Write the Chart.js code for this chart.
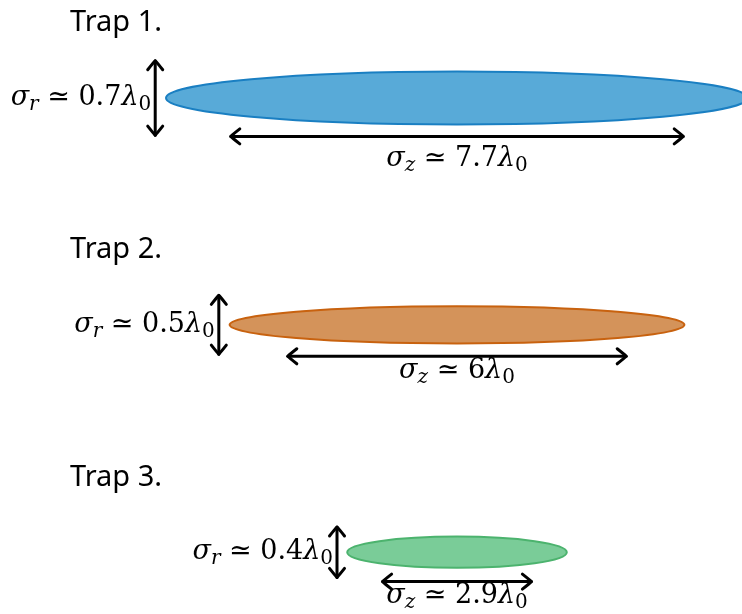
<!DOCTYPE html>
<html>
<head>
<meta charset="utf-8">
<script src="https://cdn.jsdelivr.net/npm/chart.js@4.4.1/dist/chart.umd.min.js"></script>
<style>
    html, body { margin: 0; padding: 0; background: #fff; }
</style>
</head>
<body>
<canvas id="grafico" width="742" height="614"></canvas>
<script>
// Dados (unidades de lambda0 aproximadas)
const trapNames = ['Trap 1.', 'Trap 2.', 'Trap 3.'];
const sigmaRText = ['0.7', '0.5', '0.4'];
const sigmaZText = ['7.7', '6', '2.9'];
const rowCenter = [0, -3.78, -7.57];
const ellipseHalfLen = [4.85, 3.79, 1.83];
const ellipseHalfHt = [0.44, 0.31, 0.26];
const zArrowHalf = [3.77, 2.82, 1.24];
const zArrowDy = [-0.64, -0.525, -0.49];
const zLabelDy = [-1.14, -0.89, -0.84];
const rArrowX = [-5.03, -3.97, -2.0];
const rArrowHalf = [0.62, 0.49, 0.42];

const fills = ['#58aad8', '#d4935a', '#7acc98'];
const edges = ['#1a7fc2', '#c8620f', '#4cb36e'];

const MATH_FONT = '"DejaVu Serif", serif';

// Desenha texto matemático com índices
function drawMath(ctx, parts, x, y, align) {
    const size = 27, subSize = 20;
    const fontFor = p => (p.it ? 'italic ' : '') + (p.sub ? subSize : size) + 'px ' + MATH_FONT;
    let total = 0;
    parts.forEach(p => { ctx.font = fontFor(p); p.w = ctx.measureText(p.t).width; total += p.w; });
    let cx = align === 'right' ? x - total : align === 'center' ? x - total / 2 : x;
    ctx.textAlign = 'left';
    ctx.textBaseline = 'alphabetic';
    ctx.fillStyle = '#000';
    parts.forEach(p => {
        ctx.font = fontFor(p);
        ctx.fillText(p.t, cx, y + (p.sub ? 5 : 0));
        cx += p.w;
    });
}

function mathParts(sym, val) {
    return [
        { t: '\u03c3', it: true },
        { t: sym, it: true, sub: true },
        { t: ' \u2243 ' },
        { t: val },
        { t: '\u03bb', it: true },
        { t: '0', sub: true }
    ];
}

// Seta de duas pontas com cabeça aberta
function drawArrow(ctx, x1, y1, x2, y2) {
    const ang = Math.atan2(y2 - y1, x2 - x1);
    const hl = 9, hw = 7.5;
    ctx.save();
    ctx.strokeStyle = '#000';
    ctx.lineWidth = 3;
    ctx.lineCap = 'round';
    ctx.lineJoin = 'round';
    ctx.beginPath();
    ctx.moveTo(x1, y1);
    ctx.lineTo(x2, y2);
    ctx.stroke();
    [[x2, y2, ang], [x1, y1, ang + Math.PI]].forEach(([tx, ty, a]) => {
        const bx = tx - hl * Math.cos(a), by = ty - hl * Math.sin(a);
        ctx.beginPath();
        ctx.moveTo(bx + hw * Math.sin(a), by - hw * Math.cos(a));
        ctx.quadraticCurveTo(tx - 2 * Math.cos(a) + 2 * Math.sin(a), ty - 2 * Math.sin(a) - 2 * Math.cos(a), tx, ty);
        ctx.quadraticCurveTo(tx - 2 * Math.cos(a) - 2 * Math.sin(a), ty - 2 * Math.sin(a) + 2 * Math.cos(a), bx - hw * Math.sin(a), by + hw * Math.cos(a));
        ctx.stroke();
    });
    ctx.restore();
}

const trapPlugin = {
    id: 'traps',
    afterDatasetsDraw(chart) {
        const ctx = chart.ctx;
        const xs = chart.scales.x, ys = chart.scales.y;
        const px = v => xs.getPixelForValue(v);
        const py = v => ys.getPixelForValue(v);
        chart.data.datasets.forEach((ds, i) => {
            const yc = rowCenter[i];
            // Elipse
            const cx = px(0), cy = py(yc);
            const rx = Math.abs(px(ellipseHalfLen[i]) - cx);
            const ry = Math.abs(py(yc + ellipseHalfHt[i]) - cy);
            ctx.save();
            ctx.beginPath();
            ctx.ellipse(cx, cy, rx, ry, 0, 0, Math.PI * 2);
            ctx.fillStyle = fills[i];
            ctx.fill();
            ctx.lineWidth = 2;
            ctx.strokeStyle = edges[i];
            ctx.stroke();
            ctx.restore();

            // Seta sigma_z
            const ay = py(yc + zArrowDy[i]);
            drawArrow(ctx, px(-zArrowHalf[i]), ay, px(zArrowHalf[i]), ay);
            drawMath(ctx, mathParts('z', sigmaZText[i]), cx, py(yc + zLabelDy[i]), 'center');

            // Seta sigma_r
            const ax = px(rArrowX[i]);
            drawArrow(ctx, ax, py(yc + rArrowHalf[i]), ax, py(yc - rArrowHalf[i]));
            drawMath(ctx, mathParts('r', sigmaRText[i]), ax - 4, cy + 7, 'right');

            // Título
            ctx.font = '29px "Noto Sans", "Open Sans", sans-serif';
            ctx.fillStyle = '#000';
            ctx.textAlign = 'left';
            ctx.textBaseline = 'alphabetic';
            ctx.fillText(trapNames[i], px(-6.45), py(yc + 1.11));
        });
    }
};

new Chart(document.getElementById('grafico'), {
    type: 'scatter',
    data: {
        datasets: trapNames.map((n, i) => ({
            label: n,
            data: [{ x: 0, y: rowCenter[i] }],
            pointRadius: 0
        }))
    },
    options: {
        responsive: false,
        animation: false,
        layout: { padding: 0 },
        plugins: { legend: { display: false }, tooltip: { enabled: false } },
        scales: {
            x: { type: 'linear', min: -7.617, max: 4.75, display: false },
            y: { type: 'linear', min: -8.6, max: 1.633, display: false }
        }
    },
    plugins: [trapPlugin]
});
</script>
</body>
</html>
